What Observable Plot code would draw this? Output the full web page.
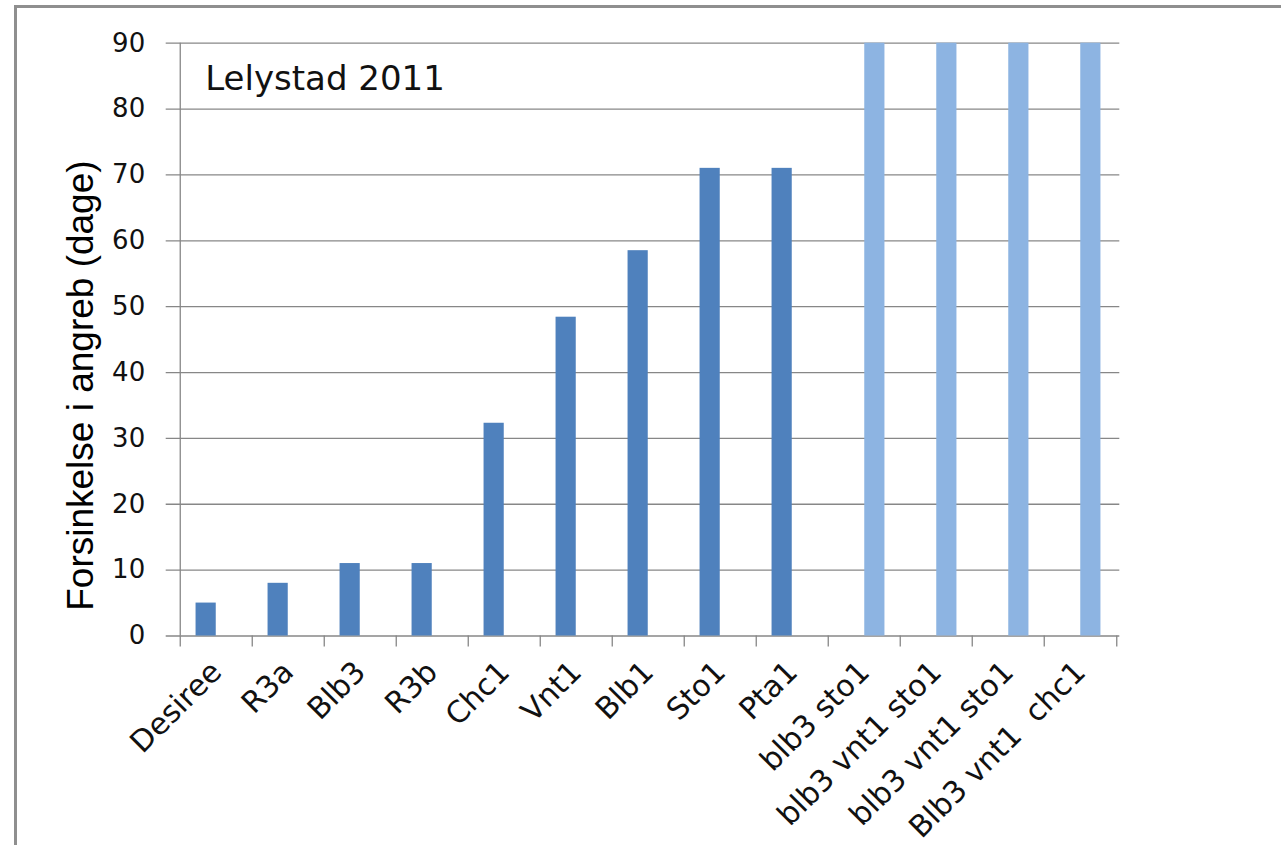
<!DOCTYPE html>
<html>
<head>
<meta charset="utf-8">
<script src="https://cdn.jsdelivr.net/npm/d3@7"></script>
<script src="https://cdn.jsdelivr.net/npm/@observablehq/plot@0.6"></script>
<style>
html, body { margin: 0; padding: 0; background: #fff; }
#wrap { position: relative; width: 1281px; height: 845px; overflow: hidden; }
#border { position: absolute; left: 14px; top: 5px; width: 2000px; height: 2000px;
  border-top: 3px solid #8f8f8f; border-left: 3px solid #8f8f8f; box-sizing: border-box; }
#chart { position: absolute; left: 0; top: 0; }
#chart svg text { white-space: pre; }
</style>
</head>
<body>
<div id="wrap"><div id="border"></div><div id="chart"></div></div>
<script>
// ---- data ----
const categories = ["Desiree", "R3a", "Blb3", "R3b", "Chc1", "Vnt1", "Blb1", "Sto1", "Pta1",
  "blb3 sto1", "blb3 vnt1 sto1", "blb3 vnt1 sto1", "Blb3 vnt1  chc1"];
const singleGene = [5, 8, 11, 11, 32.3, 48.4, 58.5, 71, 71, null, null, null, null];
const geneStack = [null, null, null, null, null, null, null, null, null, 90, 90, 90, 90];
const yTicks = [0, 10, 20, 30, 40, 50, 60, 70, 80, 90];
const titleText = "Lelystad 2011";
const yLabel = "Forsinkelse i angreb (dage)";

// ---- layout ----
const W = 1281, H = 845;
const mL = 176.7, mR = 161.7, mT = 42.7, mB = 209.5;
const idx = categories.map((_, i) => i);
const step = (W - mL - mR) / categories.length;
const barW = step * 0.2855;
const gridColor = "#878787";

const rows = idx.map(i => ({i, single: singleGene[i], stack: geneStack[i]}));

const chart = Plot.plot({
  width: W,
  height: H,
  marginLeft: mL,
  marginRight: mR,
  marginTop: mT,
  marginBottom: mB,
  style: {fontFamily: "'DejaVu Sans', Verdana, sans-serif", color: "#111", background: "transparent"},
  x: {type: "band", domain: idx, padding: 0, axis: null},
  y: {domain: [0, 90], axis: null},
  marks: [
    Plot.gridY(yTicks, {stroke: gridColor, strokeOpacity: 1, strokeWidth: 1.3, insetLeft: -11}),
    Plot.ruleX([0], {x: d => d, dx: -step / 2, stroke: gridColor, strokeWidth: 1.3}),
    Plot.ruleX(idx, {x: d => d, dx: -step / 2, y1: 0, y2: 0, insetBottom: -11, stroke: gridColor, strokeWidth: 1.3}),
    Plot.ruleX([idx[idx.length - 1]], {x: d => d, dx: step / 2, y1: 0, y2: 0, insetBottom: -11, stroke: gridColor, strokeWidth: 1.3}),
    Plot.barY(rows.filter(d => d.single != null), {x: "i", y: "single", fill: "#4F81BD",
      insetLeft: step / 2 - barW, insetRight: step / 2}),
    Plot.barY(rows.filter(d => d.stack != null), {x: "i", y: "stack", fill: "#8DB4E2",
      insetLeft: step / 2, insetRight: step / 2 - barW}),
    Plot.axisY(yTicks, {tickSize: 0, tickPadding: 32, fontSize: 26, label: null, fill: "#111"}),
    Plot.axisX(idx, {tickSize: 0, tickPadding: 31, tickRotate: -45, fontSize: 30,
      tickFormat: i => categories[i], label: null, fill: "#111"}),
    Plot.text([titleText], {frameAnchor: "top-left", textAnchor: "start", lineAnchor: "bottom",
      dx: 28, dy: 46.6, fontSize: 34, fill: "#111"}),
    Plot.text([yLabel], {frameAnchor: "left", rotate: -90, textAnchor: "middle", lineAnchor: "bottom",
      dx: -84.7, dy: 46, fontSize: 37, fill: "#000",
      fontFamily: "'Liberation Sans', Arial, sans-serif"})
  ]
});
document.getElementById("chart").appendChild(chart);
</script>
</body>
</html>
